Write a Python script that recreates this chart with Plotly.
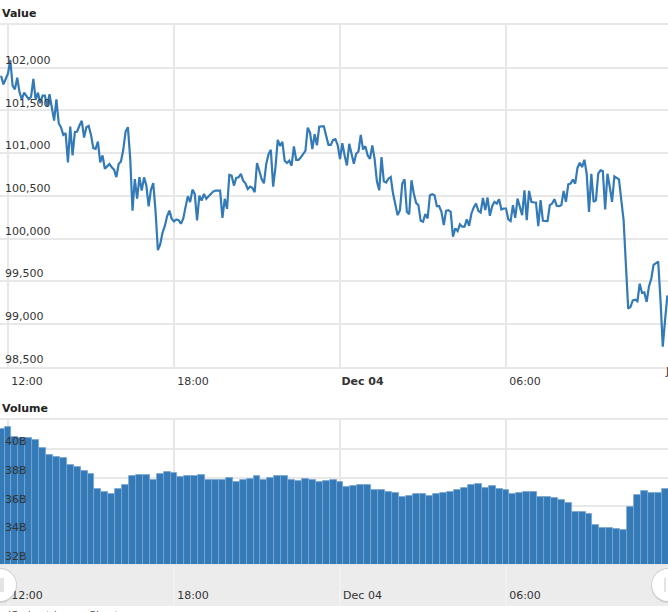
import pandas as pd
import plotly.graph_objects as go
from plotly.subplots import make_subplots

W = 668
H = 612

value_start = "2024-12-03 11:45"
value_series = [
    101907, 101805, 101868, 101934, 102090, 101790, 101747, 101883, 101712, 101630,
    101708, 101673, 101630, 101660, 101868, 101623, 101708, 101584, 101673, 101673,
    101545, 101689, 101525, 101381, 101630, 101350, 101300, 101214, 101234, 100891,
    101311, 100973, 101245, 101253, 101323, 101378, 101183, 101304, 101319, 101214,
    101059, 101051, 101136, 100891, 100973, 100817, 100845, 100872, 100833, 100806,
    100720, 100872, 100903, 101039, 101253, 101304, 100942, 100327, 100697, 100467,
    100720, 100561, 100716, 100623, 100378, 100572, 100650, 100319, 99864, 99930,
    100067, 100145, 100261, 100327,
    100232, 100201, 100224, 100216, 100174, 100232, 100368, 100496, 100426, 100573,
    100523, 100212, 100503, 100445, 100523, 100465, 100496, 100523, 100550, 100562,
    100562, 100562, 100243, 100465, 100348, 100744, 100736, 100620, 100709, 100717,
    100756, 100678, 100647, 100581, 100608, 100593, 100542, 100884, 100794, 100697,
    100647, 100872, 100988, 101039, 100608, 100833, 101155, 101085, 101132, 100911,
    100884, 100911, 100853, 101078, 100922, 100922, 100950, 100988, 101027, 101299,
    101241, 101047, 101221, 101093, 101310, 101314, 101314, 101202, 101097, 101097,
    101155, 101163, 101093, 100930,
    101116, 100973, 100856, 101109, 100973, 100876, 100992, 101019, 101213, 101043,
    101081, 100973, 100934, 101089, 100934, 100670, 100565, 100953, 100670, 100655,
    100701, 100721, 100527, 100391, 100274, 100333, 100643, 100693, 100313, 100286,
    100682, 100527, 100418, 100391, 100208, 100197, 100286, 100236, 100507, 100519,
    100507, 100379, 100379, 100313, 100158, 100325, 100333, 100313, 100022, 100119,
    100088, 100166, 100139, 100139, 100224, 100150, 100294, 100364, 100410, 100325,
    100305, 100476, 100333, 100480, 100267, 100379, 100430, 100410, 100461, 100340,
    100352, 100352, 100224, 100205,
    100391, 100243, 100468, 100371, 100274, 100565, 100216, 100558, 100430, 100422,
    100422, 100146, 100449, 100208, 100208, 100205, 100391, 100410, 100461, 100383,
    100379, 100391, 100558, 100430, 100635, 100643, 100690, 100643, 100829, 100887,
    100837, 100922, 100759, 100313, 100759, 100430, 100449, 100759, 100798, 100790,
    100340, 100759, 100604, 100430, 100728, 100713, 100693, 100449, 100216, 99692,
    99180, 99200, 99277, 99285, 99266, 99471, 99363, 99370, 99258, 99440,
    99529, 99692, 99712, 99731, 99285, 98734, 99052, 99335,
]

# 15 minute volume, in billions
volume_series = [
    41.35, 41.52, 40.80, 40.75, 40.75, 40.64, 40.06, 39.60, 39.46, 39.37,
    38.86, 38.77, 38.49, 38.28, 37.24, 37.01, 36.87, 37.24, 37.52, 38.10,
    38.21, 38.17, 37.84, 38.28, 38.40, 38.35, 38.03, 38.14, 38.14, 38.21,
    37.80, 37.84, 37.82, 37.98, 37.70, 37.80, 37.89, 38.12, 37.84, 37.94,
    38.10, 38.12, 37.84, 37.75, 37.89, 37.82, 37.70, 37.77, 37.80,
    37.70, 37.38, 37.43, 37.52, 37.52, 37.13, 37.13, 37.01, 36.90, 36.67,
    36.73, 36.83, 36.85, 36.69, 36.83, 36.92, 36.97, 37.17, 37.29, 37.47,
    37.57, 37.31, 37.40, 37.22, 37.13, 36.85, 36.90, 37.01, 37.01, 36.62,
    36.67, 36.60, 36.43, 36.27, 35.63, 35.58, 35.49, 34.70, 34.47, 34.47,
    34.42, 34.36, 35.97, 36.78, 37.06, 36.90, 36.92, 37.24,
]

time_ticks = ["2024-12-03 12:00", "2024-12-03 18:00", "2024-12-04 00:00", "2024-12-04 06:00"]
top_time_labels = ["12:00", "18:00", "&nbsp;&nbsp;<b>Dec 04</b>", "06:00"]
bottom_time_labels = ["12:00", "18:00", "&nbsp;&nbsp;Dec 04", "06:00"]
value_ticks = [98500, 99000, 99500, 100000, 100500, 101000, 101500, 102000]
value_labels = ["98,500", "99,000", "99,500", "100,000", "100,500", "101,000", "101,500", "102,000"]
volume_ticks = [32, 34, 36, 38, 40]
volume_labels = ["32B", "34B", "36B", "38B", "40B"]

BLUE = "#337ab7"
GRID = "#e8e8e8"
FONT = "DejaVu Sans"
TEXT = "#333333"
x_range = ["2024-12-03 11:42:39", "2024-12-04 11:51:18"]


def px_x(p):
    return p / W


def px_y(p):
    return 1 - p / H


value_times = pd.date_range(value_start, periods=len(value_series), freq="5min")
volume_times = pd.date_range(value_start, periods=len(volume_series), freq="15min")

fig = make_subplots(rows=2, cols=1)
fig.add_trace(go.Scatter(x=value_times, y=value_series, mode="lines",
                         line=dict(color=BLUE, width=2.2), hoverinfo="skip"), row=1, col=1)
fig.add_trace(go.Bar(x=volume_times, y=volume_series,
                     marker=dict(color=BLUE, line=dict(width=0.8, color="#7aa6d2")),
                     hoverinfo="skip"), row=2, col=1)

axis_font = dict(family=FONT, size=11, color=TEXT)
x_common = dict(range=x_range, type="date", tickvals=time_ticks, showline=True, mirror=True,
                linecolor=GRID, linewidth=2, zeroline=False,
                gridcolor=GRID, gridwidth=1.5, ticks="", tickfont=axis_font, ticklabelshift=19,
                tickangle=0)
# labels sit inside the plot, on the right of a free axis at the left edge
y_common = dict(side="right", anchor="free", position=0, ticklabelposition="outside top",
                showline=False, zeroline=False, gridcolor=GRID, gridwidth=2, ticks="",
                tickfont=axis_font, ticklabelstandoff=4)

fig.update_layout(
    width=W, height=H, margin=dict(l=0, r=0, t=0, b=0),
    paper_bgcolor="white", plot_bgcolor="white", showlegend=False, bargap=0,
    font=dict(family=FONT, size=11, color=TEXT),
    xaxis=dict(domain=[0, 1], ticktext=top_time_labels, anchor="y", ticklabelstandoff=3, **x_common),
    yaxis=dict(domain=[px_y(366.7), px_y(25)], range=[98500, 102500], tickvals=value_ticks,
               ticktext=value_labels, **y_common),
    xaxis2=dict(domain=[0, 1], ticktext=bottom_time_labels, anchor="y2", ticklabelstandoff=20, **x_common),
    yaxis2=dict(domain=[px_y(564), px_y(420)], range=[32, 42], tickvals=volume_ticks,
                ticktext=volume_labels, **y_common),
)

# scrollbar band under the volume panel
fig.add_shape(type="rect", xref="paper", yref="paper", x0=0, x1=1, y0=px_y(606), y1=px_y(564),
              fillcolor="#ececec", line_width=0, layer="below")
for t in time_ticks:
    fig.add_shape(type="line", xref="x2", yref="paper", x0=t, x1=t, y0=px_y(606), y1=px_y(564),
                  line=dict(color="#f3f3f3", width=1.5), layer="below")

# round drag handles
for cx in [0, 668]:
    fig.add_shape(type="circle", xref="paper", yref="paper", x0=px_x(cx - 17), x1=px_x(cx + 17),
                  y0=px_y(603), y1=px_y(568), fillcolor="rgba(0,0,0,0.12)", line_width=0)
    fig.add_shape(type="circle", xref="paper", yref="paper", x0=px_x(cx - 16), x1=px_x(cx + 16),
                  y0=px_y(601), y1=px_y(569), fillcolor="white", line_width=0)
    for grip in [-3, 1, 3]:
        fig.add_shape(type="line", xref="paper", yref="paper", x0=px_x(cx + grip), x1=px_x(cx + grip),
                      y0=px_y(592), y1=px_y(578), line=dict(color="#c8c8c8", width=1))


def label(text, px, py, **kw):
    fig.add_annotation(text=text, xref="paper", yref="paper", x=px_x(px), y=px_y(py), showarrow=False,
                       xanchor="left", yanchor="top", borderpad=0, align="left", **kw)


label("<b>Value</b>", 1, 6, font=dict(family=FONT, size=11, color="#222222"))
label("<b>Volume</b>", 1, 401, font=dict(family=FONT, size=11, color="#222222"))
label("J", 664, 364, font=dict(family=FONT, size=11, color=TEXT))
label("JS chart by amCharts", 6, 608, font=dict(family=FONT, size=11, color="#555555"))

fig.write_html("out.html", config=dict(displayModeBar=False),
               post_script="document.body.style.margin='0';document.body.style.overflow='hidden';")
